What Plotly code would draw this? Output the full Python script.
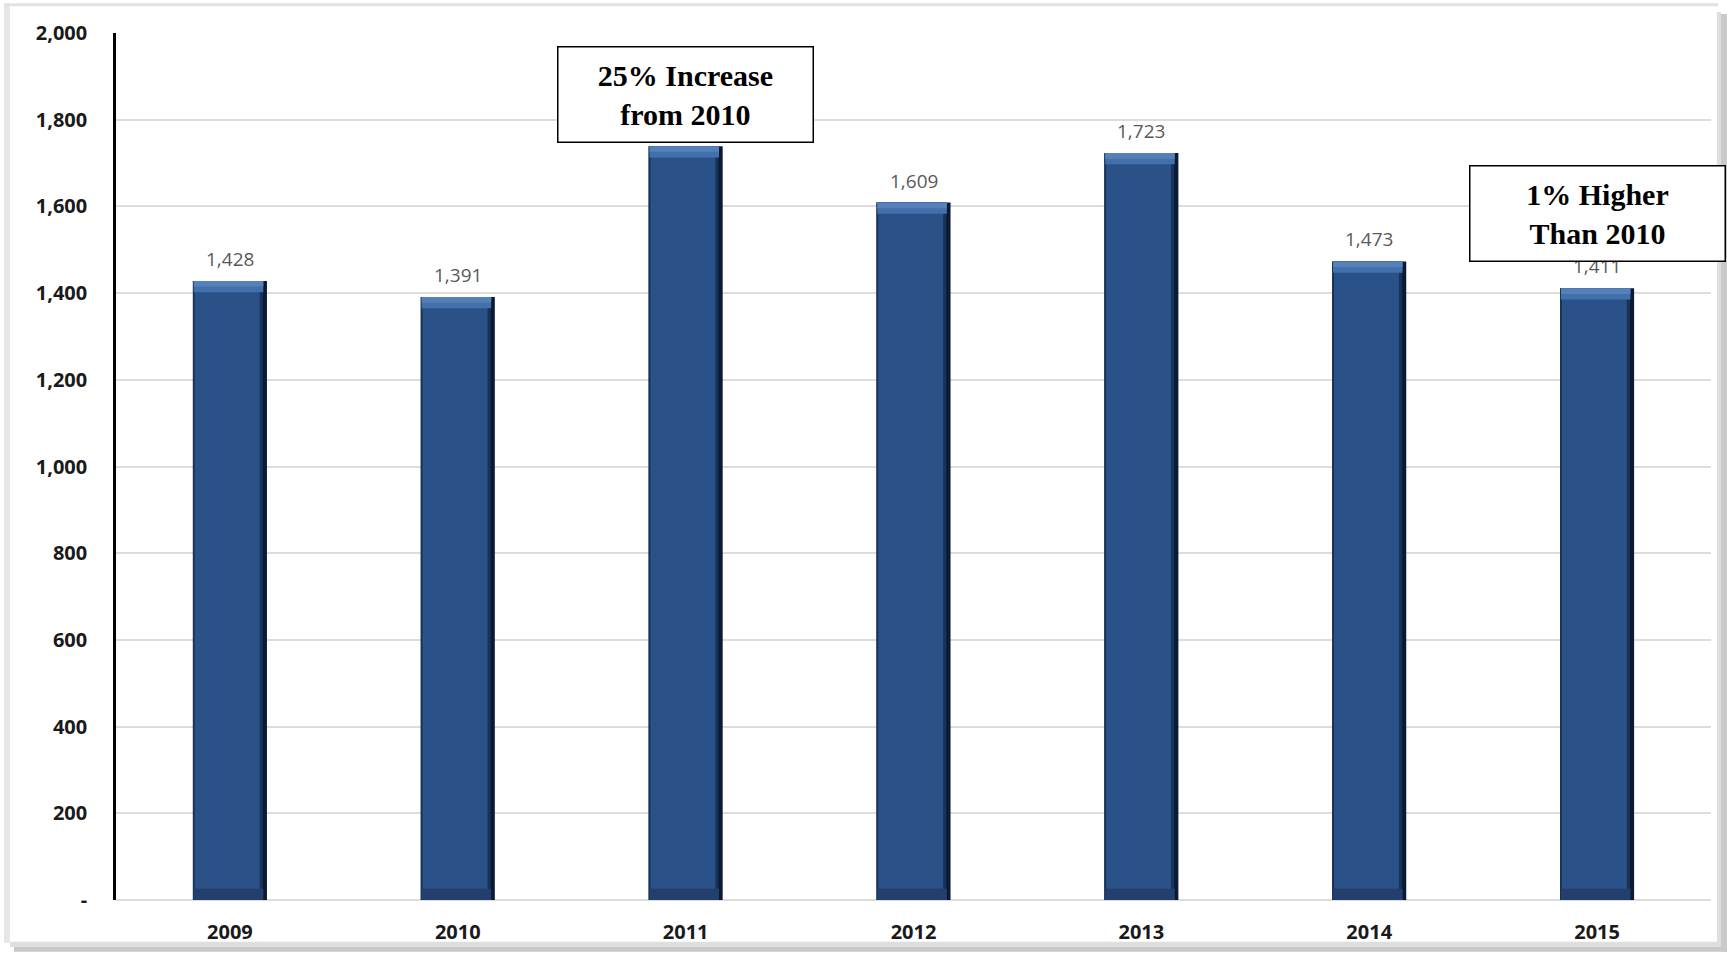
import plotly.graph_objects as go

# Annual totals
years = ["2009", "2010", "2011", "2012", "2013", "2014", "2015"]
totals = [1428, 1391, 1739, 1609, 1723, 1473, 1411]

# Axis ticks (accounting style, zero shown as a dash)
y_tickvals = [0, 200, 400, 600, 800, 1000, 1200, 1400, 1600, 1800, 2000]
y_ticktext = ["-", "200", "400", "600", "800", "1,000", "1,200", "1,400", "1,600", "1,800", "2,000"]

# Callout boxes
callouts = [
    {"year": "2011", "text": "25% Increase<br>from 2010", "y": 1859},
    {"year": "2015", "text": "1% Higher<br>Than 2010", "y": 1583},
]

W, H = 1727, 957
ML, MR, MT, MB = 116, 16, 33, 52
PW, PH = W - ML - MR, H - MT - MB


def px_x(p):
    return (p - ML) / PW


def px_y(p):
    return (H - MB - p) / PH


pos = list(range(len(years)))
BW = 0.325          # bar width in category units
BEVEL = 26          # bevel depth in data units
n = len(totals)

fig = go.Figure()


def layer(y, base, width, offset, color):
    fig.add_trace(go.Bar(x=pos, y=y, base=base, width=[width] * n, offset=offset,
                         marker=dict(color=color, line=dict(width=0)),
                         hoverinfo="skip", showlegend=False))


# dark outer edge, mid shade, main face
layer(totals, [0] * n, BW, -BW / 2, "#0b1a33")
layer(totals, [0] * n, BW - 0.018, -BW / 2, "#173358")
layer(totals, [0] * n, BW - 0.04, -BW / 2 + 0.008, "#2a5188")
# top bevel highlight and bottom bevel shade
layer([BEVEL] * n, [v - BEVEL for v in totals], BW - 0.02, -BW / 2 + 0.004, "#4270ab")
layer([BEVEL * 0.5] * n, [v - BEVEL * 0.5 for v in totals], BW - 0.02, -BW / 2 + 0.004, "#5580b8")
layer([BEVEL] * n, [0] * n, BW - 0.02, -BW / 2 + 0.004, "#223f6d")

annotations = []
# value labels
for i, v in zip(pos, totals):
    annotations.append(dict(x=i, y=v, xref="x", yref="y", text=f"{v:,}",
                            showarrow=False, yanchor="bottom", yshift=7,
                            font=dict(family="Open Sans, Arial", size=19, color="#595959")))
# callout boxes
for c in callouts:
    annotations.append(dict(x=years.index(c["year"]), y=c["y"], xref="x", yref="y",
                            text=c["text"], showarrow=False,
                            xanchor="center", yanchor="middle",
                            width=254, height=94, align="center",
                            bgcolor="white", bordercolor="black", borderwidth=1.5, borderpad=0,
                            font=dict(family="Liberation Serif", size=30,
                                      color="black", weight="bold")))

shapes = [
    # page frame
    dict(type="rect", xref="paper", yref="paper",
         x0=px_x(4), x1=px_x(10), y0=px_y(948), y1=px_y(3),
         fillcolor="#e6e6e6", line=dict(width=0), layer="below"),
    dict(type="rect", xref="paper", yref="paper",
         x0=px_x(4), x1=px_x(1718), y0=px_y(6), y1=px_y(3),
         fillcolor="#e2e2e2", line=dict(width=0), layer="below"),
    dict(type="rect", xref="paper", yref="paper",
         x0=px_x(1717), x1=px_x(1721), y0=px_y(950), y1=px_y(12),
         fillcolor="#dedede", line=dict(width=0), layer="below"),
    dict(type="rect", xref="paper", yref="paper",
         x0=px_x(1721), x1=px_x(1727), y0=px_y(957), y1=px_y(14),
         fillcolor="#c9c9c9", line=dict(width=0), layer="below"),
    dict(type="rect", xref="paper", yref="paper",
         x0=px_x(10), x1=px_x(1721), y0=px_y(952), y1=px_y(947),
         fillcolor="#dedede", line=dict(width=0), layer="below"),
    dict(type="rect", xref="paper", yref="paper",
         x0=px_x(14), x1=px_x(1727), y0=px_y(957), y1=px_y(952),
         fillcolor="#c9c9c9", line=dict(width=0), layer="below"),
]

fig.update_layout(
    width=W, height=H,
    margin=dict(l=ML, r=MR, t=MT, b=MB),
    paper_bgcolor="white", plot_bgcolor="white",
    barmode="overlay",
    showlegend=False,
    annotations=annotations,
    shapes=shapes,
    xaxis=dict(
        range=[-0.5, n - 0.5], tickvals=pos, ticktext=years,
        showgrid=False, showline=False, zeroline=False, ticks="", ticklabelstandoff=18,
        tickfont=dict(family="Open Sans, Arial", size=20, color="#1a1a1a", weight="bold"),
    ),
    yaxis=dict(
        range=[0, 2000], tickvals=y_tickvals, ticktext=y_ticktext,
        showgrid=True, gridcolor="#dcdcdc", gridwidth=1.5,
        zeroline=True, zerolinecolor="#dcdcdc", zerolinewidth=1.5,
        showline=True, linecolor="black", linewidth=2.5,
        ticks="", ticklabelstandoff=22,
        tickfont=dict(family="Open Sans, Arial", size=20, color="#1a1a1a", weight="bold"),
    ),
)

fig.write_html("out.html")
